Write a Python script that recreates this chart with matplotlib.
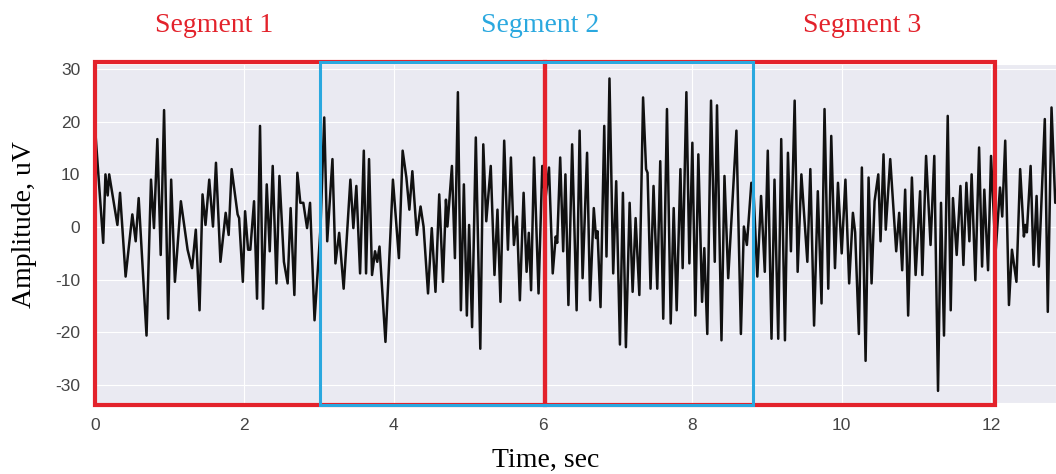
import matplotlib
matplotlib.use("Agg")
import matplotlib.pyplot as plt
from matplotlib.patches import Rectangle
import seaborn as sns

# turning points of the trace (sec, uV)
time_s = [0.00, 0.11, 0.14, 0.17, 0.19, 0.30, 0.335, 0.41, 0.50, 0.545, 0.585, 0.69, 0.75, 0.79, 0.835,
          0.88, 0.925, 0.98, 1.02, 1.07, 1.15, 1.24, 1.30, 1.35, 1.40, 1.44, 1.48, 1.53, 1.58, 1.62,
          1.68, 1.75, 1.79, 1.83, 1.91, 1.93, 1.98, 2.01, 2.05, 2.08, 2.13, 2.17, 2.21, 2.25, 2.30,
          2.34, 2.38, 2.43, 2.47, 2.53, 2.58, 2.62, 2.67, 2.71, 2.75, 2.79, 2.84, 2.88, 2.94, 3.02,
          3.07, 3.11, 3.18, 3.22, 3.27, 3.33, 3.42, 3.46, 3.50, 3.55, 3.60, 3.63, 3.67, 3.71, 3.75,
          3.78, 3.81, 3.89, 3.99, 4.07, 4.12, 4.17, 4.21, 4.25, 4.31, 4.36, 4.40, 4.46, 4.51, 4.56,
          4.61, 4.66, 4.70, 4.72, 4.78, 4.82, 4.86, 4.90, 4.94, 4.98, 5.01, 5.05, 5.10, 5.16, 5.20,
          5.24, 5.30, 5.35, 5.39, 5.43, 5.48, 5.53, 5.57, 5.61, 5.65, 5.69, 5.74, 5.78, 5.81, 5.84,
          5.88, 5.94, 5.99, 6.03, 6.08, 6.13, 6.17, 6.19, 6.23, 6.27, 6.30, 6.34, 6.39, 6.45, 6.49,
          6.53, 6.59, 6.63, 6.68, 6.71, 6.73, 6.77, 6.82, 6.85, 6.89, 6.94, 6.98, 7.03, 7.07, 7.11,
          7.16, 7.20, 7.24, 7.29, 7.34, 7.38, 7.40, 7.44, 7.48, 7.53, 7.57, 7.61, 7.66, 7.71, 7.75,
          7.79, 7.84, 7.87, 7.92, 7.96, 8.00, 8.04, 8.08, 8.13, 8.16, 8.20, 8.25, 8.30, 8.33, 8.39,
          8.43, 8.48, 8.59, 8.65, 8.69, 8.73, 8.79, 8.82, 8.87, 8.92, 8.97, 9.01, 9.06, 9.10, 9.15,
          9.19, 9.24, 9.28, 9.32, 9.37, 9.41, 9.46, 9.54, 9.58, 9.63, 9.68, 9.73, 9.77, 9.82, 9.86,
          9.91, 9.95, 10.00, 10.05, 10.10, 10.15, 10.18, 10.23, 10.27, 10.32, 10.36, 10.40, 10.44, 10.49, 10.52,
          10.56, 10.59, 10.65, 10.73, 10.77, 10.81, 10.85, 10.89, 10.94, 10.99, 11.05, 11.08, 11.13, 11.19, 11.24,
          11.29, 11.33, 11.37, 11.42, 11.46, 11.49, 11.54, 11.59, 11.63, 11.67, 11.71, 11.74, 11.79, 11.84, 11.88,
          11.91, 11.96, 12.00, 12.06, 12.12, 12.15, 12.19, 12.24, 12.28, 12.34, 12.39, 12.44, 12.46, 12.48, 12.53,
          12.57, 12.61, 12.64, 12.72, 12.76, 12.81, 12.86, 12.90]
amp_uv = [19, -3, 10, 6, 10, 0.4, 6.5, -9.4, 2.4, -2.7, 5.5, -20.6, 9, -0.2, 16.7,
          -5.3, 22.2, -17.4, 9, -10.4, 4.9, -4.3, -7.8, -0.5, -15.8, 6.2, 0.4, 9, 0.1, 12.2,
          -6.6, 2.7, -1.5, 11, 2.4, 1.7, -10.4, 3, -4.3, -4.3, 4.9, -13.6, 19.2, -15.5, 8.1,
          -4.6, 11.6, -10.7, 9.7, -6.6, -10.7, 3.6, -12.9, 10.3, 4.6, 4.6, -0.2, 4.6, -17.7, -0.2,
          20.8, -2.7, 12.9, -6.9, -1.1, -11.7, 9, -0.2, 7.8, -8.8, 14.5, -8.8, 12.9, -9.1, -4.6,
          -6.6, -3.7, -21.8, 9, -5.9, 14.5, 9.4, 3.3, 10.6, -1.5, 3.9, 0.1, -12.6, -0.2, -12.3,
          6.2, -10.4, 5.2, 0.1, 11.6, -5.9, 25.6, -15.8, 8.1, -16.8, 0.4, -19, 17, -23.1, 15.7,
          1.1, 11.6, -9.1, 3.3, -14.2, 16.4, -4.3, 13.2, -3.4, 2, -13.9, 6.5, -8.5, -1.1, -12,
          13.2, -12.6, 11.6, 5, 11.3, -8.8, -1.8, -3, 13.2, -4.6, 10, -14.8, 15.7, -15.8, 18.3,
          -9.7, 14.1, -13.9, 3.6, -2.1, -0.8, -15.2, 19.2, -5.6, 28.2, -8.8, 8.7, -22.3, 6.5, -22.8,
          4.6, -12.3, 1.7, -12.9, 24.6, 11, 10.3, -11.7, 7.8, -11.7, 12.5, -17.4, 22.4, -18.3, 3.6,
          -15.8, 11, -7.8, 25.6, -6.9, 16, -16.8, 13.8, -14.2, -4, -20.3, 24, -6.6, 23.1, -21.5,
          9.7, -9.7, 18.3, -20.3, 0.1, -3.4, 8.4, 6.5, -9.4, 5.9, -8.5, 14.5, -21.2, 9, -21.2,
          16.7, -21.5, 14.1, -4.6, 24, -8.5, 10, -6.6, 11, -18.7, 6.8, -14.5, 22.4, -11.7, 17.3,
          -7.8, 8.4, -5, 9, -10.7, 2.7, -1, -20.3, 11.3, -25.4, 9.4, -10.7, 4.9, 10, -2.7,
          13.8, -0.5, 12.9, -4.6, 2.7, -8.2, 7.1, -16.8, 9.4, -9.1, 6.8, -9.1, 13.5, -3.4, 13.5,
          -31.1, 4.6, -20.6, 21.1, -15.8, 5.5, -5.3, 7.8, -7.2, 8.4, -2.7, 10, -10.1, 15.1, -7.5,
          7.1, -8.2, 13.5, -5, 7.5, 2, 16.4, -14.8, -4.3, -10.4, 11, -1.8, 0.4, -1, 11.6,
          -7.2, 5.9, -7.5, 20.5, -16.1, 22.7, 4.6, 8]

segment_names = ["Segment 1", "Segment 2", "Segment 3"]
segment_starts = [0.0, 3.01, 6.03]
segment_ends = [6.03, 8.81, 12.05]
segment_label_x = [1.6, 5.96, 10.27]

x_ticks = [0, 2, 4, 6, 8, 10, 12]
y_ticks = [-30, -20, -10, 0, 10, 20, 30]

red = "#e3222b"
blue = "#2aa8df"
segment_colors = [red, blue, red]

sns.set_style("darkgrid")
plt.rcParams["font.family"] = ["Liberation Sans", "DejaVu Sans"]
plt.rcParams["axes.unicode_minus"] = False

fig = plt.figure(figsize=(10.56, 4.74), dpi=100)
ax = fig.add_axes([95 / 1056, 1 - 403 / 474, 1 - 95 / 1056, 339 / 474])

ax.plot(time_s, amp_uv, color="#111111", lw=1.8, zorder=3)

ax.set_xlim(0, 12.87)
ax.set_ylim(-33.4, 30.95)
ax.set_xticks(x_ticks)
ax.set_yticks(y_ticks)
ax.tick_params(labelsize=12.5, labelcolor="#444444", pad=7)

# red boxes first, the blue one on top of them
trans = ax.get_xaxis_transform()
for i in [0, 2, 1]:
    lw = 3.0 if segment_colors[i] == red else 2.2
    rect = Rectangle((segment_starts[i], -0.005), segment_ends[i] - segment_starts[i], 1.01,
                     transform=trans, fill=False, edgecolor=segment_colors[i], lw=lw,
                     clip_on=False, zorder=5)
    ax.add_patch(rect)
    ax.text(segment_label_x[i], 1.115, segment_names[i], transform=trans, ha="center", va="center",
            color=segment_colors[i], fontsize=20, family="Liberation Serif")

fig.text(546 / 1056, 1 - 460 / 474, "Time, sec", ha="center", va="center",
         fontsize=20, family="Liberation Serif", color="black")
fig.text(25 / 1056, 1 - 225 / 474, "Amplitude, uV", ha="center", va="center", rotation=90,
         fontsize=20, family="Liberation Serif", color="black")

fig.savefig("out.png", dpi=100)
